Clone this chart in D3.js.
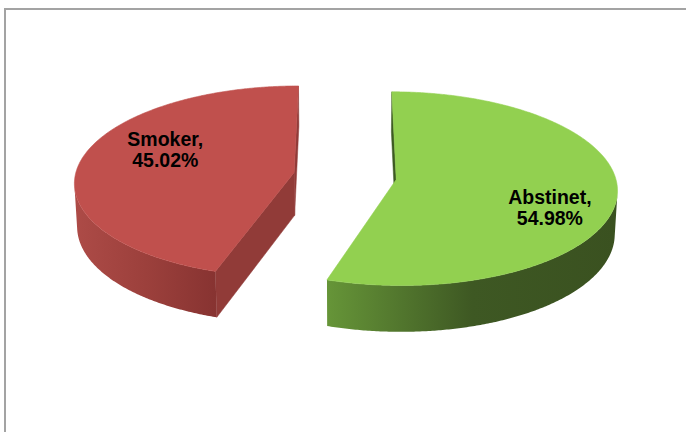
<!DOCTYPE html>
<html>
<head>
<meta charset="utf-8">
<script src="https://cdn.jsdelivr.net/npm/d3@7"></script>
<style>
  html, body { margin: 0; padding: 0; background: #ffffff; }
  svg { display: block; }
</style>
</head>
<body>
<div id="chart"></div>
<script>
// Share of respondents by smoking status
const categories = ["Abstinet", "Smoker"];
const values = [54.98, 45.02];
const topColors = ["#92D050", "#C0504D"];
const wallColors = [
  ["#669538", "#3e5823", "#3a5120"],
  ["#ad4b47", "#9c403c", "#873331"]
];
const cutColors = ["#3d5a22", "#913b38"];

const W = 686, H = 432;

// 3D layout of the pie (unit radius in world space)
const view = {
  cx: 345, cy: 176,     // where the pie centre lands on screen
  scale: 219,           // pixels per unit radius
  tilt: 25.8 * Math.PI / 180,
  dist: 9.57,           // camera distance (unit radii)
  depth: 0.22,          // slab thickness
  explode: 0.236
};
const labelLayout = { shift: 13.5 * Math.PI / 180, radius: [0.73, 0.66] };

const sinT = Math.sin(view.tilt), cosT = Math.cos(view.tilt);
const camera = [0, -view.dist * cosT, view.dist * sinT];

function project(X, Y, Z) {
  const yv = Y * sinT + Z * cosT;
  const zv = Y * cosT - Z * sinT;
  const w = 1 + zv / view.dist;
  return [view.cx + view.scale * X / w, view.cy - view.scale * yv / w];
}
function facesCamera(n, p) {
  return n[0] * (camera[0] - p[0]) + n[1] * (camera[1] - p[1]) + n[2] * (camera[2] - p[2]) > 0;
}

const svg = d3.select("#chart").append("svg")
  .attr("width", W).attr("height", H);
const defs = svg.append("defs");

// chart frame
svg.append("rect")
  .attr("x", 5).attr("y", 9)
  .attr("width", W + 20).attr("height", H + 20)
  .attr("fill", "none")
  .attr("stroke", "#a3a3a3")
  .attr("stroke-width", 2);

const pie = d3.pie().sort(null).value(d => d)(values);
const line = d3.line();
const h = view.depth;

pie.forEach((arc, i) => {
  const a0 = arc.startAngle, a1 = arc.endAngle;
  const mid = (a0 + a1) / 2;
  const ox = view.explode * Math.sin(mid), oy = view.explode * Math.cos(mid);
  const rim = (t, z) => project(ox + Math.sin(t), oy + Math.cos(t), z);
  const g = svg.append("g").attr("class", "slice slice-" + i);

  // radial cut faces
  const cuts = [
    { t: a0, n: [-Math.cos(a0), Math.sin(a0), 0] },
    { t: a1, n: [Math.cos(a1), -Math.sin(a1), 0] }
  ];
  cuts.forEach(c => {
    const p = [ox + 0.5 * Math.sin(c.t), oy + 0.5 * Math.cos(c.t), -h / 2];
    if (!facesCamera(c.n, p)) return;
    const pts = [project(ox, oy, 0), rim(c.t, 0), rim(c.t, -h), project(ox, oy, -h)];
    g.append("path")
      .attr("d", line(pts) + "Z")
      .attr("fill", cutColors[i])
      .attr("stroke", cutColors[i]).attr("stroke-width", 0.5);
  });

  // curved outer wall, front-facing stretches only
  const steps = Math.ceil((a1 - a0) / (Math.PI / 360));
  const ts = d3.range(steps + 1).map(k => a0 + (a1 - a0) * k / steps);
  const runs = [];
  let cur = null;
  ts.forEach(t => {
    const n = [Math.sin(t), Math.cos(t), 0];
    const p = [ox + n[0], oy + n[1], -h / 2];
    if (facesCamera(n, p)) {
      if (!cur) { cur = []; runs.push(cur); }
      cur.push(t);
    } else cur = null;
  });
  runs.forEach((run, r) => {
    const pts = run.map(t => rim(t, 0)).concat(run.slice().reverse().map(t => rim(t, -h)));
    const xs = pts.map(p => p[0]);
    const id = "wall-" + i + "-" + r;
    const grad = defs.append("linearGradient")
      .attr("id", id).attr("gradientUnits", "userSpaceOnUse")
      .attr("x1", d3.min(xs)).attr("x2", d3.max(xs))
      .attr("y1", 0).attr("y2", 0);
    const cs = wallColors[i];
    grad.selectAll("stop").data(cs).join("stop")
      .attr("offset", (d, k) => k / (cs.length - 1))
      .attr("stop-color", d => d);
    g.append("path")
      .attr("d", line(pts) + "Z")
      .attr("fill", `url(#${id})`);
  });

  // top face
  const topPts = [project(ox, oy, 0)].concat(ts.map(t => rim(t, 0)));
  g.append("path")
    .attr("d", line(topPts) + "Z")
    .attr("fill", topColors[i])
    .attr("stroke", topColors[i]).attr("stroke-width", 0.6);

  // data label on the top face
  const lt = mid + labelLayout.shift, lr = labelLayout.radius[i];
  const [lx, ly] = project(ox + lr * Math.sin(lt), oy + lr * Math.cos(lt), 0);
  const text = g.append("text")
    .attr("x", lx).attr("y", ly)
    .attr("text-anchor", "middle")
    .attr("font-family", "'Liberation Sans', Arial, sans-serif")
    .attr("font-weight", "bold")
    .attr("font-size", "19.5px")
    .attr("fill", "#000");
  text.append("tspan").attr("x", lx).attr("dy", -3.5).text(categories[i] + ",");
  text.append("tspan").attr("x", lx).attr("dy", 21).text(d3.format(".2f")(values[i]) + "%");
});
</script>
</body>
</html>
